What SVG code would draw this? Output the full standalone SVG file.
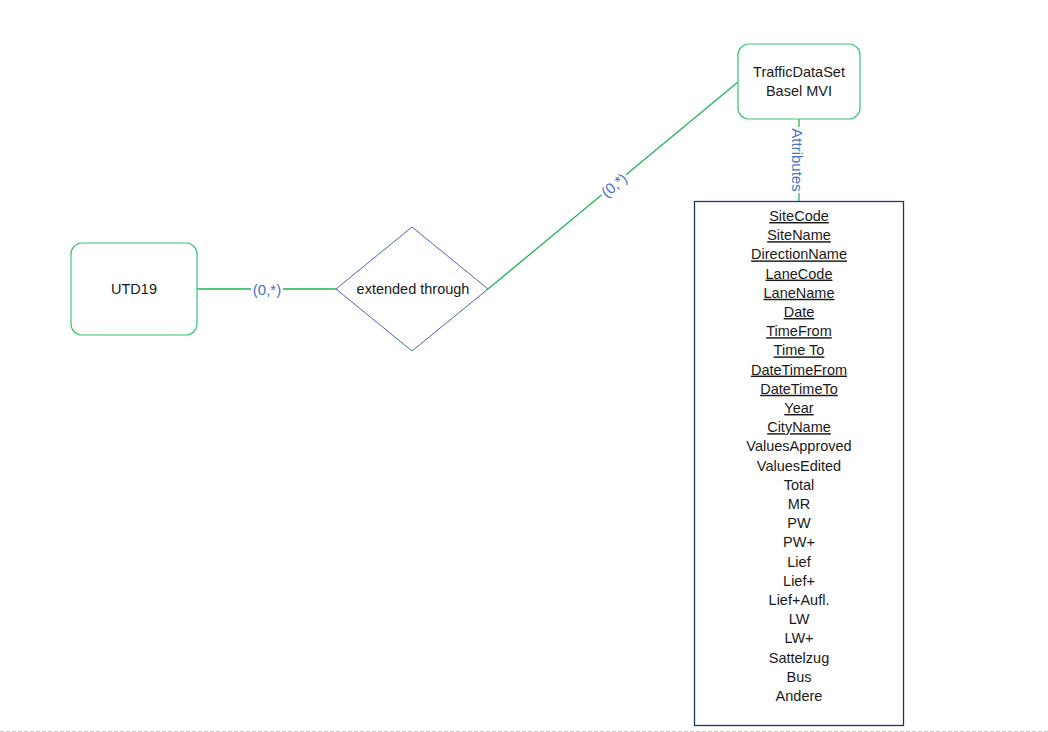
<svg xmlns="http://www.w3.org/2000/svg" width="1048" height="732" viewBox="0 0 1048 732">
  <style>
    .entity { fill: #ffffff; stroke: #3cc471; stroke-width: 1.2; }
    .rel { fill: #ffffff; stroke: #4a63b0; stroke-width: 1; }
    .attrbox { fill: #ffffff; stroke: #1f3470; stroke-width: 1.3; }
    .conn { stroke: #1fb556; stroke-width: 1.3; fill: none; }
    .lbl { font-family: "Liberation Sans", Arial, sans-serif; font-size: 14.5px; fill: #1a1a1a; text-anchor: middle; }
    .card { font-family: "Liberation Sans", Arial, sans-serif; font-size: 15px; fill: #4472c4; text-anchor: middle; }
    .attr { font-family: "Liberation Sans", Arial, sans-serif; font-size: 14.5px; fill: #1a1a1a; text-anchor: middle; }
    .key { text-decoration: underline; }
  </style>

  <rect width="1048" height="732" fill="#ffffff"/>
  <!-- page edge -->
  <line x1="0" y1="731.5" x2="1048" y2="731.5" stroke="#c8c8c8" stroke-width="1" stroke-dasharray="4 2"/>

  <g id="connectors">
    <line class="conn" x1="197" y1="289" x2="336" y2="289"/>
    <line class="conn" x1="488" y1="289" x2="738" y2="82"/>
    <line class="conn" x1="799" y1="119" x2="799" y2="201"/>
    <rect x="251" y="281" width="32" height="16" fill="#ffffff"/>
    <text class="card" x="267" y="294.5">(0,*)</text>
    <g transform="translate(614,185) rotate(-39.6)">
      <rect x="-16" y="-8" width="32" height="16" fill="#ffffff"/>
      <text class="card" x="0" y="5.5">(0,*)</text>
    </g>
    <g transform="translate(797,160) rotate(90)">
      <rect x="-33" y="-8" width="66" height="15" fill="#ffffff"/>
      <text class="card" x="0" y="5">Attributes</text>
    </g>
  </g>

  <g id="utd19">
    <rect class="entity" x="71" y="243" width="126" height="92" rx="11"/>
    <text class="lbl" x="134" y="294">UTD19</text>
  </g>

  <g id="extended-through">
    <polygon class="rel" points="412,227 488,289 412,351 336,289"/>
    <text class="lbl" x="413" y="294">extended through</text>
  </g>

  <g id="traffic-dataset">
    <rect class="entity" x="738" y="44" width="122" height="75" rx="11"/>
    <text class="lbl" x="799" y="77">TrafficDataSet</text>
    <text class="lbl" x="799" y="96">Basel MVI</text>
  </g>

  <g id="attributes">
    <rect class="attrbox" x="694.5" y="201.5" width="209" height="524"/>
    <text class="attr key" x="799" y="221">SiteCode</text>
    <text class="attr key" x="799" y="240.2">SiteName</text>
    <text class="attr key" x="799" y="259.4">DirectionName</text>
    <text class="attr key" x="799" y="278.6">LaneCode</text>
    <text class="attr key" x="799" y="297.8">LaneName</text>
    <text class="attr key" x="799" y="317">Date</text>
    <text class="attr key" x="799" y="336.2">TimeFrom</text>
    <text class="attr key" x="799" y="355.4">Time To</text>
    <text class="attr key" x="799" y="374.6">DateTimeFrom</text>
    <text class="attr key" x="799" y="393.8">DateTimeTo</text>
    <text class="attr key" x="799" y="413">Year</text>
    <text class="attr key" x="799" y="432.2">CityName</text>
    <text class="attr" x="799" y="451.4">ValuesApproved</text>
    <text class="attr" x="799" y="470.6">ValuesEdited</text>
    <text class="attr" x="799" y="489.8">Total</text>
    <text class="attr" x="799" y="509">MR</text>
    <text class="attr" x="799" y="528.2">PW</text>
    <text class="attr" x="799" y="547.4">PW+</text>
    <text class="attr" x="799" y="566.6">Lief</text>
    <text class="attr" x="799" y="585.8">Lief+</text>
    <text class="attr" x="799" y="605">Lief+Aufl.</text>
    <text class="attr" x="799" y="624.2">LW</text>
    <text class="attr" x="799" y="643.4">LW+</text>
    <text class="attr" x="799" y="662.6">Sattelzug</text>
    <text class="attr" x="799" y="681.8">Bus</text>
    <text class="attr" x="799" y="701">Andere</text>
  </g>
</svg>
